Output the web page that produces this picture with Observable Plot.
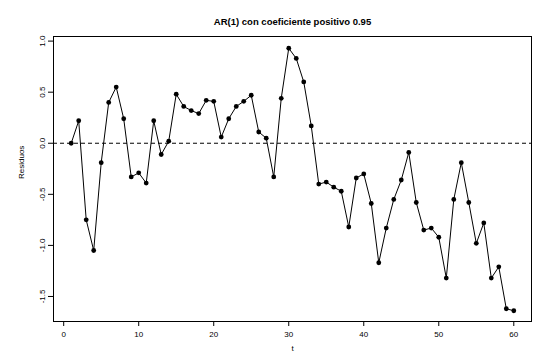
<!DOCTYPE html>
<html>
<head>
<meta charset="utf-8">
<script src="https://cdn.jsdelivr.net/npm/d3@7"></script>
<script src="https://cdn.jsdelivr.net/npm/@observablehq/plot@0.6"></script>
<style>
  html, body { margin: 0; padding: 0; background: #fff; }
  svg { display: block; }
</style>
</head>
<body>
<div id="chart"></div>
<script>
const title = "AR(1) con coeficiente positivo 0.95";
const xLabel = "t";
const yLabel = "Residuos";
const t = d3.range(1, 61);
const residuos = [
  0.00, 0.22, -0.75, -1.05, -0.19, 0.40, 0.55, 0.24, -0.33, -0.29,
  -0.39, 0.22, -0.11, 0.02, 0.48, 0.36, 0.32, 0.29, 0.42, 0.41,
  0.06, 0.24, 0.36, 0.41, 0.47, 0.11, 0.05, -0.33, 0.44, 0.93,
  0.83, 0.60, 0.17, -0.40, -0.38, -0.43, -0.47, -0.82, -0.34, -0.30,
  -0.59, -1.17, -0.83, -0.55, -0.36, -0.09, -0.58, -0.85, -0.83, -0.92,
  -1.32, -0.55, -0.19, -0.58, -0.98, -0.78, -1.32, -1.21, -1.62, -1.64
];
const xTicks = [0, 10, 20, 30, 40, 50, 60];
const yTicks = [-1.5, -1.0, -0.5, 0.0, 0.5, 1.0];

const data = t.map((d, i) => ({t: d, r: residuos[i]}));
const font = "'Liberation Sans', Arial, Helvetica, sans-serif";

const chart = Plot.plot({
  width: 533,
  height: 359,
  marginLeft: 53,
  marginRight: 2,
  marginTop: 36,
  marginBottom: 38,
  style: {fontFamily: font, fontSize: "8px", color: "#000", background: "#fff"},
  x: {domain: [-1.36, 62.36]},
  y: {domain: [-1.745, 1.045]},
  marks: [
    Plot.ruleY([0], {stroke: "#000", strokeDasharray: "4,3", strokeWidth: 1}),
    Plot.line(data, {x: "t", y: "r", stroke: "#000", strokeWidth: 1}),
    Plot.dot(data, {x: "t", y: "r", r: 2.4, fill: "#000", stroke: "none"}),
    Plot.frame({stroke: "#000", strokeWidth: 1}),
    Plot.axisX(xTicks, {tickSize: 5, tickPadding: 5, fontSize: 8, label: null, stroke: "#000"}),
    Plot.axisY(yTicks, {tickSize: 5, tickPadding: 4, tickRotate: -90, fontSize: 8, label: null,
      tickFormat: d => d.toFixed(1), stroke: "#000"}),
    Plot.text([title], {frameAnchor: "top", dy: -18, fontWeight: "bold", fontSize: 9.5, fill: "#000"}),
    Plot.text([xLabel], {frameAnchor: "bottom", dy: 29, fontSize: 8, fill: "#000"}),
    Plot.text([yLabel], {frameAnchor: "left", dx: -32, rotate: -90, fontSize: 8, fill: "#000"})
  ]
});
document.getElementById("chart").appendChild(chart);
</script>
</body>
</html>
